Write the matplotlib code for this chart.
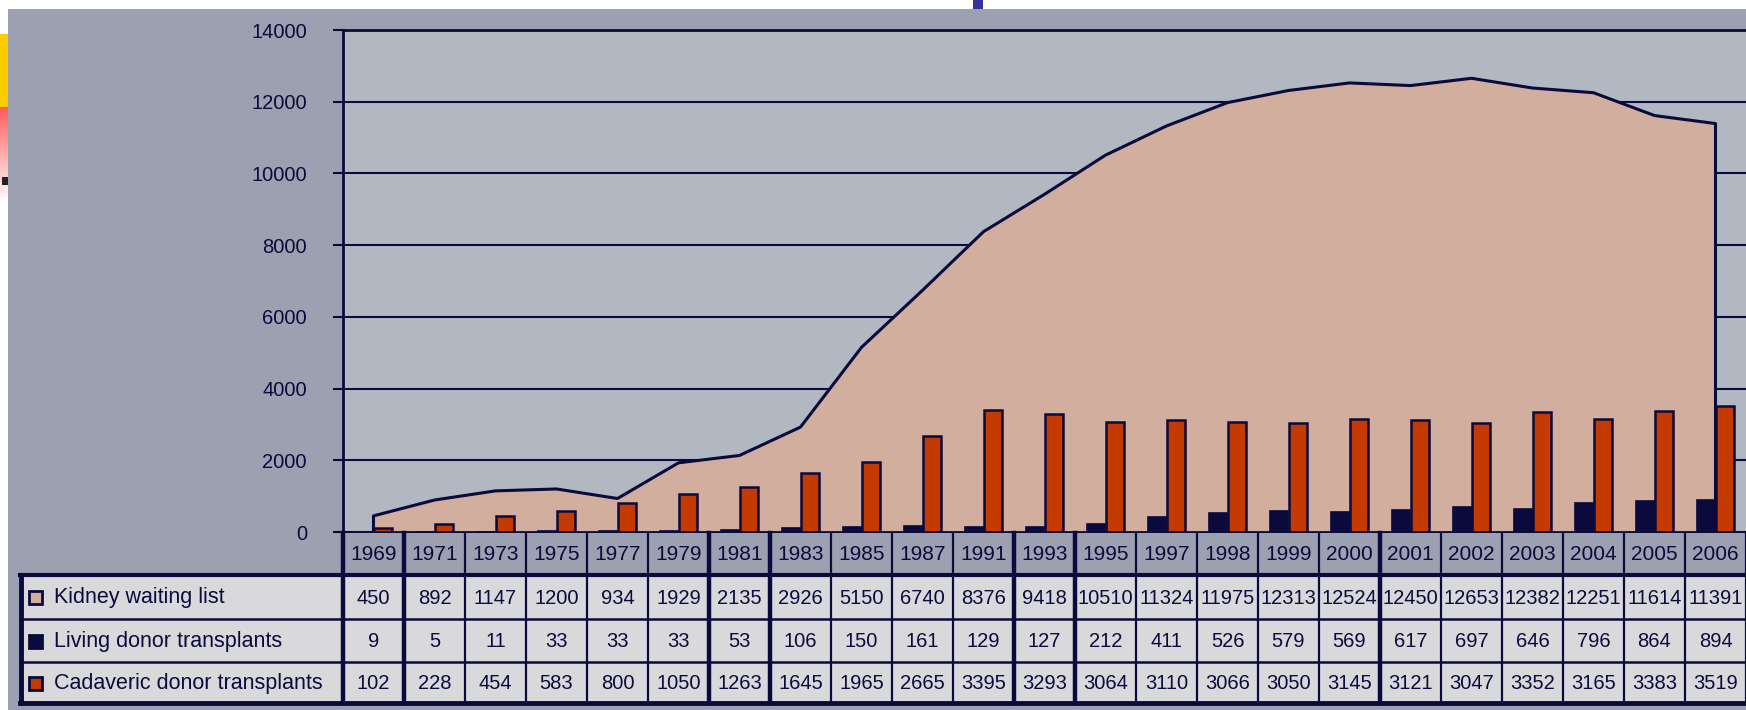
import matplotlib
matplotlib.use("Agg")
import matplotlib.pyplot as plt
from matplotlib.patches import Rectangle
from matplotlib.transforms import blended_transform_factory
import numpy as np

plt.rcParams['font.family'] = ['Liberation Sans', 'DejaVu Sans']

years = ["1969", "1971", "1973", "1975", "1977", "1979", "1981", "1983", "1985",
         "1987", "1991", "1993", "1995", "1997", "1998", "1999", "2000", "2001",
         "2002", "2003", "2004", "2005", "2006"]
waiting = [450, 892, 1147, 1200, 934, 1929, 2135, 2926, 5150, 6740, 8376, 9418,
           10510, 11324, 11975, 12313, 12524, 12450, 12653, 12382, 12251, 11614, 11391]
living = [9, 5, 11, 33, 33, 33, 53, 106, 150, 161, 129, 127, 212, 411, 526, 579,
          569, 617, 697, 646, 796, 864, 894]
cadaveric = [102, 228, 454, 583, 800, 1050, 1263, 1645, 1965, 2665, 3395, 3293,
             3064, 3110, 3066, 3050, 3145, 3121, 3047, 3352, 3165, 3383, 3519]
row_names = ["Kidney waiting list", "Living donor transplants", "Cadaveric donor transplants"]
yticks = [0, 2000, 4000, 6000, 8000, 10000, 12000, 14000]

navy = "#0a0a3c"
panel = "#9ba1b0"
plotbg = "#b2b8c2"
area_c = "#d1ae9e"
orange = "#c43a00"
cell = "#d9d9dc"

W, H = 1746, 710
fig = plt.figure(figsize=(W / 100, H / 100), dpi=100)
fig.patch.set_facecolor("white")

# background slide decorations (pixel coords)
bg = fig.add_axes([0, 0, 1, 1], zorder=0)
bg.add_patch(Rectangle((8, 9), W - 8, H - 9, color=panel, lw=0))
bg.add_patch(Rectangle((0, 34), 8, 73, color="#ffcc00", lw=0))
grad = np.linspace(0, 1, 100)
red = np.ones((100, 1, 3))
red[:, 0, 1] = 0.36 + 0.6 * grad
red[:, 0, 2] = 0.36 + 0.6 * grad
bg.imshow(red, extent=(0, 8, 197, 107), aspect="auto")
bg.add_patch(Rectangle((2, 177), 6, 8, color="#222222", lw=0))
bg.add_patch(Rectangle((973, 0), 10, 9, color="#333399", lw=0))
bg.set_xlim(0, W)
bg.set_ylim(H, 0)
bg.axis("off")

# main chart
ax = fig.add_axes([343 / W, 178 / H, (W - 343) / W, 502 / H], zorder=1)
ax.set_facecolor(plotbg)
x = np.arange(len(years))
ax.fill_between(x, waiting, 0, color=area_c, lw=0, zorder=1)
ax.plot(np.r_[x[0], x, x[-1]], np.r_[0, waiting, 0], color=navy, lw=2.2, zorder=2)
ax.bar(x - 0.3, living, width=0.3, align="edge", color=navy, edgecolor=navy, lw=1.2, zorder=3)
ax.bar(x, cadaveric, width=0.3, align="edge", color=orange, edgecolor=navy, lw=1.8, zorder=3)

ax.set_xlim(-0.5, len(years) - 0.5)
ax.set_ylim(0, 14000)
ax.set_yticks(yticks)
ax.set_yticklabels([str(v) for v in yticks], fontsize=14.5, color=navy)
ax.tick_params(axis="y", length=7, width=1.5, color=navy, pad=19)
ax.set_xticks([])
ax.yaxis.grid(True, color=navy, lw=1.5)
ax.set_axisbelow(True)
for s in ["left", "top", "bottom"]:
    ax.spines[s].set_color(navy)
    ax.spines[s].set_linewidth(2)
ax.spines["right"].set_visible(False)

# data table under the chart
tb = fig.add_axes([0, 0, 1, 1], zorder=3)
tb.set_xlim(0, W)
tb.set_ylim(H, 0)
tb.axis("off")
tb.patch.set_alpha(0)
tr = blended_transform_factory(ax.transData, tb.transData)

rows = [waiting, living, cadaveric]
row_y = [(575, 619), (619, 662), (662, 703)]
n = len(years)

# header year cells
tb.add_patch(Rectangle((-0.5, 533), n, 40, transform=tr, color=panel, lw=0, clip_on=False))
for i, yr in enumerate(years):
    tb.text(i, 554, yr, transform=tr, ha="center", va="center", fontsize=15, color=navy)

# body cells
tb.add_patch(Rectangle((20, 575), W - 20, 128, color=cell, lw=0))
for vals, (y0, y1) in zip(rows, row_y):
    for i, v in enumerate(vals):
        tb.text(i, (y0 + y1) / 2 + 1, str(v), transform=tr, ha="center", va="center",
                fontsize=14.5, color=navy)

# row label column
sw_colors = [area_c, navy, orange]
for name, c, (y0, y1) in zip(row_names, sw_colors, row_y):
    yc = (y0 + y1) / 2
    tb.add_patch(Rectangle((29, yc - 6), 13, 13, facecolor=c, edgecolor=navy, lw=2))
    tb.text(54, yc + 1, name, ha="left", va="center", fontsize=15.5, color=navy)

# table grid lines
for yy in [619, 662]:
    tb.plot([20, W], [yy, yy], color=navy, lw=1.8)
tb.plot([20, W], [575, 575], color=navy, lw=3)
tb.plot([20, W], [703, 703], color=navy, lw=3.5)
tb.plot([21, 21], [575, 703], color=navy, lw=3.5)
thick = [0, 1, 6, 7, 11, 12, 17]
for k in range(n + 1):
    lw = 3.2 if k in thick else 1.6
    tb.plot([k - 0.5, k - 0.5], [533, 703], transform=tr, color=navy, lw=lw, clip_on=False)

fig.savefig("out.png", dpi=100, facecolor=fig.get_facecolor())
